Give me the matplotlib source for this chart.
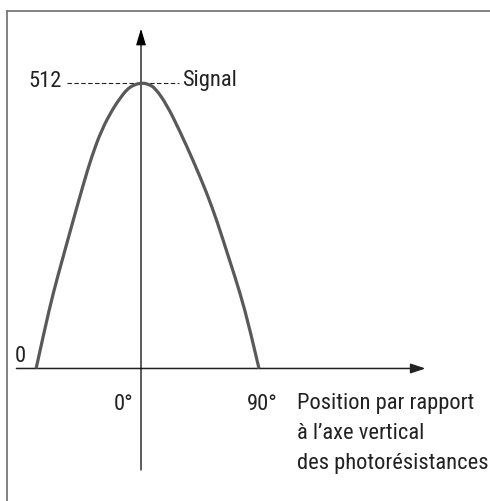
import matplotlib
matplotlib.use("Agg")
import matplotlib.pyplot as plt
from matplotlib import font_manager
from matplotlib.font_manager import FontProperties
from matplotlib.lines import Line2D
from matplotlib.path import Path
from matplotlib.patches import PathPatch

# signal curve (angle in degrees, signal value)
angle = [-80, -73.5, -66.9, -59.3, -51.9, -44, -37.6, -30, -21.1, -16, -10.9,
         -5, 1.5, 6, 10.7, 19.6, 29.7, 39.9, 50.1, 58, 66.6, 75.5, 83.1, 90]
signal = [0, 70, 136, 201, 264, 330, 380, 428, 467, 484, 500,
          509, 512, 509, 503, 473, 425, 372, 315, 264, 201, 136, 70, 0]

peak_value = 512
peak_label = "512"
peak_name = "Signal"
tick_pos = [0, 90]
tick_labels = ["0°", "90°"]
zero_label = "0"
x_title_lines = ["Position par rapport", "à l’axe vertical", "des photorésistances"]

# the original uses a narrow face; take one if one is installed
font_path = None
for fam, stretch, tag in [("Liberation Sans Narrow", "normal", "Narrow"),
                          ("Roboto Condensed", "normal", "Condensed"),
                          ("Noto Sans", "condensed", "Condensed"),
                          ("DejaVu Sans", "condensed", "Condensed"),
                          ("Open Sans", "condensed", "Condensed")]:
    try:
        p = font_manager.findfont(FontProperties(family=fam, stretch=stretch),
                                  fallback_to_default=False)
    except ValueError:
        continue
    if tag in p:
        font_path = p
        break
if font_path is None:
    font_path = font_manager.findfont(FontProperties(family=["Roboto", "DejaVu Sans"]))
TXT = "#222222"

fig = plt.figure(figsize=(4.9, 5.01), dpi=100)
ax = fig.add_axes([0, 0, 1, 1])
ax.set_xlim(-107.55, 266.2)
ax.set_ylim(-237.5, 660.4)
ax.axis("off")

# size the text so the first title line is as wide as in the original (~176 px)
renderer = fig.canvas.get_renderer()
w, _, _ = renderer.get_text_width_height_descent(
    x_title_lines[0], FontProperties(fname=font_path, size=10), ismath=False)
FS = min(18.0, 10 * 176 / w)
prop = FontProperties(fname=font_path, size=FS)

# frame (left and top edges only, the rest is cut off)
fig.add_artist(Line2D([0.0135, 0.0135], [0, 0.978], color="#777777", lw=1.3))
fig.add_artist(Line2D([0.0135, 1.0], [0.978, 0.978], color="#777777", lw=1.3))

# axes with arrows
ax.annotate("", xy=(217, 0), xytext=(-95, 0),
            arrowprops=dict(arrowstyle="-|>,head_length=9,head_width=3",
                            mutation_scale=1, color="#222222", lw=1.1,
                            shrinkA=0, shrinkB=0))
ax.annotate("", xy=(0, 609), xytext=(0, -182),
            arrowprops=dict(arrowstyle="-|>,head_length=10,head_width=3",
                            mutation_scale=1, color="black", lw=0.9,
                            shrinkA=0, shrinkB=0))

# smooth the read points with quadratic segments (corner cutting)
pts = list(zip(angle, signal))
verts = [pts[0]]
codes = [Path.MOVETO]
for i in range(1, len(pts) - 1):
    mid = ((pts[i][0] + pts[i + 1][0]) / 2, (pts[i][1] + pts[i + 1][1]) / 2)
    if i == len(pts) - 2:
        mid = pts[-1]
    verts += [pts[i], mid]
    codes += [Path.CURVE3, Path.CURVE3]
ax.add_patch(PathPatch(Path(verts, codes), fill=False, edgecolor="#595959",
                       lw=2.3, capstyle="butt", joinstyle="round", zorder=3))

# dashed guide at the peak
ax.plot([-56.4, 29], [peak_value, peak_value], color="#222222", lw=0.8,
        dashes=(4, 2.2), zorder=2)
ax.text(-60.3, 504, peak_label, ha="right", va="baseline",
        fontproperties=prop, color=TXT)
ax.text(31.3, 506, peak_name, ha="left", va="baseline",
        fontproperties=prop, color=TXT)

ax.text(-87.7, 12, zero_label, ha="right", va="baseline",
        fontproperties=prop, color=TXT)
ax.text(tick_pos[0] - 6, -74, tick_labels[0], ha="right", va="baseline",
        fontproperties=prop, color=TXT)
ax.text(tick_pos[1] + 2.7, -74, tick_labels[1], ha="center", va="baseline",
        fontproperties=prop, color=TXT)
for k, line in enumerate(x_title_lines):
    ax.text(119, -72 - 54 * k, line, ha="left", va="baseline",
            fontproperties=prop, color=TXT)

fig.savefig("out.png", dpi=100)
